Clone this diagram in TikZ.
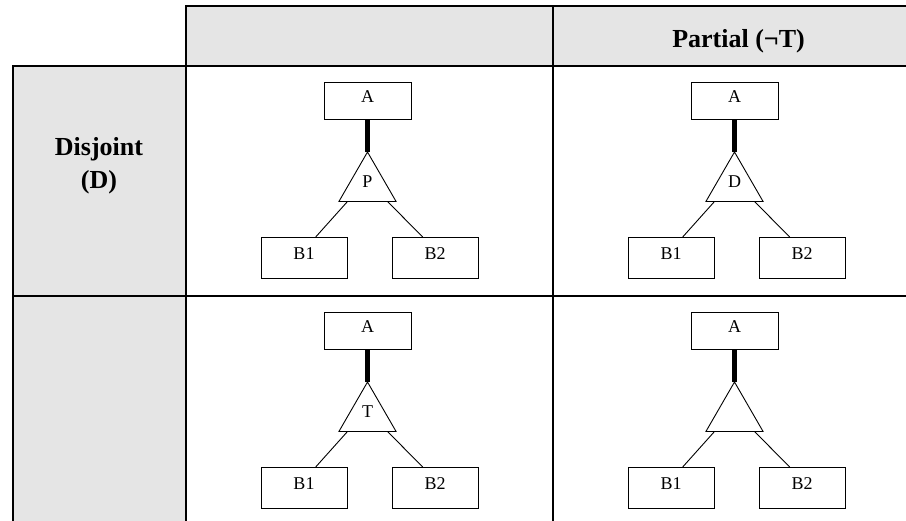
\documentclass[tikz,border=0pt]{standalone}
\usepackage{fontspec}
\setmainfont{Liberation Serif}
\usetikzlibrary{shapes.geometric,calc}
\definecolor{hdrgray}{RGB}{229,229,229}
\begin{document}
\begin{tikzpicture}[x=1pt,y=-1pt,
  rule/.style={line width=2.5pt,line cap=rect},
  hdr/.style={font=\fontsize{26}{33}\selectfont\bfseries,align=center,inner sep=0pt},
  ent/.style={draw,line width=0.9pt,font=\fontsize{18}{21}\selectfont,text height=12pt,text depth=8pt,inner sep=0pt,outer sep=0pt},
  abox/.style={ent,minimum width=87pt,minimum height=37pt},
  bbox/.style={ent,minimum width=86pt,minimum height=41pt},
  isa/.style={draw,line width=0.9pt,regular polygon,regular polygon sides=3,minimum size=66pt,inner sep=0pt,outer sep=0pt,font=\fontsize{18}{21}\selectfont,text height=12pt,text depth=6pt},
  total/.style={line width=4.5pt},
  sub/.style={line width=0.9pt}]
\useasboundingbox (0,0) rectangle (906,521);
% backgrounds
\fill[hdrgray] (186,6) rectangle (906,66);
\fill[hdrgray] (13,66) rectangle (186,521);
% grid
\draw[rule] (186,6) -- (906,6);
\draw[rule] (13,66) -- (906,66);
\draw[rule] (13,296) -- (906,296);
\draw[rule] (13,66) -- (13,521);
\draw[rule] (186,6) -- (186,521);
\draw[rule] (553,6) -- (553,521);
% header texts
\node[hdr,anchor=base] (hpartial) at (738.5,48) {Partial (¬T)};
\node[hdr,anchor=base] (hdisj) at (99,156) {Disjoint};
\node[hdr,anchor=base] (hdisjd) at (99,189) {(D)};
% diagram row 1, middle
\node[abox] (a1) at (367.5,100.8) {A};
\node[isa] (t1) at (367.5,185) {P};
\node[bbox] (b11) at (304,257.5) {B1};
\node[bbox] (b12) at (435,257.5) {B2};
\draw[total] (a1.south) -- (t1.corner 1);
\draw[sub] ($(t1.corner 2)!0.15!(t1.corner 3)$) -- ($(b11.north west)!0.636!(b11.north east)$);
\draw[sub] ($(t1.corner 3)!0.15!(t1.corner 2)$) -- ($(b12.north west)!0.357!(b12.north east)$);
% diagram row 1, right
\node[abox] (a2) at (734.5,100.8) {A};
\node[isa] (t2) at (734.5,185) {D};
\node[bbox] (b21) at (671,257.5) {B1};
\node[bbox] (b22) at (802,257.5) {B2};
\draw[total] (a2.south) -- (t2.corner 1);
\draw[sub] ($(t2.corner 2)!0.15!(t2.corner 3)$) -- ($(b21.north west)!0.636!(b21.north east)$);
\draw[sub] ($(t2.corner 3)!0.15!(t2.corner 2)$) -- ($(b22.north west)!0.357!(b22.north east)$);
% diagram row 2, middle
\node[abox] (a3) at (367.5,330.8) {A};
\node[isa] (t3) at (367.5,415) {T};
\node[bbox] (b31) at (304,487.5) {B1};
\node[bbox] (b32) at (435,487.5) {B2};
\draw[total] (a3.south) -- (t3.corner 1);
\draw[sub] ($(t3.corner 2)!0.15!(t3.corner 3)$) -- ($(b31.north west)!0.636!(b31.north east)$);
\draw[sub] ($(t3.corner 3)!0.15!(t3.corner 2)$) -- ($(b32.north west)!0.357!(b32.north east)$);
% diagram row 2, right
\node[abox] (a4) at (734.5,330.8) {A};
\node[isa] (t4) at (734.5,415) {};
\node[bbox] (b41) at (671,487.5) {B1};
\node[bbox] (b42) at (802,487.5) {B2};
\draw[total] (a4.south) -- (t4.corner 1);
\draw[sub] ($(t4.corner 2)!0.15!(t4.corner 3)$) -- ($(b41.north west)!0.636!(b41.north east)$);
\draw[sub] ($(t4.corner 3)!0.15!(t4.corner 2)$) -- ($(b42.north west)!0.357!(b42.north east)$);
\end{tikzpicture}
\end{document}
